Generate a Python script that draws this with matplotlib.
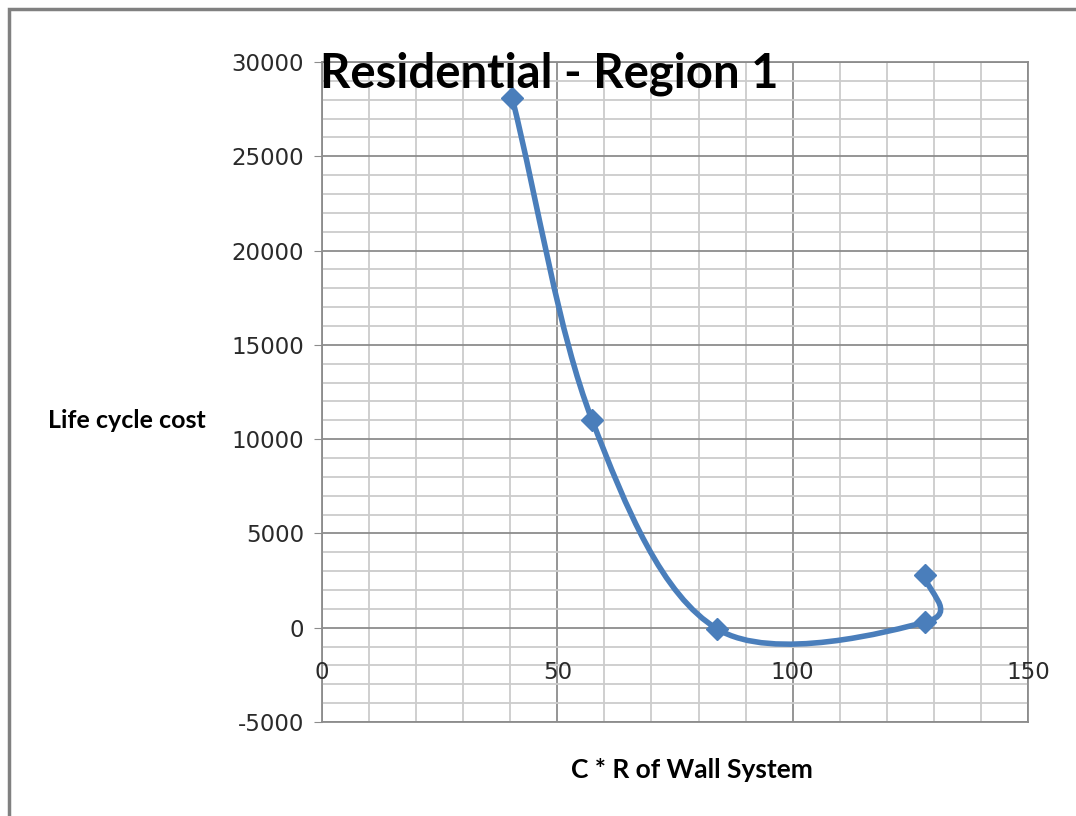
import numpy as np
import matplotlib.pyplot as plt
from matplotlib.path import Path
from matplotlib.patches import PathPatch, Rectangle
from matplotlib.ticker import MultipleLocator

# C*R of wall system vs life cycle cost
cr = [40.4, 57.4, 84.0, 128.2, 128.1]
lcc = [28100, 11000, -70, 300, 2800]

x_ticks = [0, 50, 100, 150]
y_ticks = [-5000, 0, 5000, 10000, 15000, 20000, 25000, 30000]

blue = '#4a7ebb'


def smooth_path(xs, ys):
    # excel-like smoothed line: cubic bezier with catmull-rom tangents
    p = np.column_stack([xs, ys]).astype(float)
    n = len(p)
    verts = [p[0]]
    codes = [Path.MOVETO]
    for i in range(n - 1):
        t0 = (p[i + 1] - p[i - 1]) / 2 if i > 0 else (p[i + 1] - p[i])
        t1 = (p[i + 2] - p[i]) / 2 if i + 2 < n else (p[i + 1] - p[i])
        verts += [p[i] + t0 / 3, p[i + 1] - t1 / 3, p[i + 1]]
        codes += [Path.CURVE4] * 3
    return Path(verts, codes)


fig = plt.figure(figsize=(10.76, 8.16), dpi=100)
ax = fig.add_axes([322 / 1076, 1 - 722 / 816, (1028 - 322) / 1076, 660 / 816])

ax.set_xlim(0, 150)
ax.set_ylim(-5000, 30000)
ax.xaxis.set_major_locator(MultipleLocator(50))
ax.xaxis.set_minor_locator(MultipleLocator(10))
ax.yaxis.set_major_locator(MultipleLocator(5000))
ax.yaxis.set_minor_locator(MultipleLocator(1000))
ax.grid(which='major', color='#8c8c8c', lw=1.3)
ax.grid(which='minor', color='#cccccc', lw=1.3)
ax.set_axisbelow(True)
for s in ax.spines.values():
    s.set_color('#8c8c8c')
    s.set_linewidth(1.3)

ax.set_yticks(y_ticks)
ax.set_yticklabels([str(v) for v in y_ticks])
ax.tick_params(axis='y', which='major', length=6, color='#8c8c8c', labelsize=16.5, pad=7, labelcolor='#2a2a2a')
ax.tick_params(axis='y', which='minor', length=0)
ax.set_xticks(x_ticks)
ax.set_xticklabels([])
ax.tick_params(axis='x', which='both', length=0)
for v in x_ticks:
    ax.text(v, -2400, str(v), ha='center', va='center', fontsize=16.5, color='#2a2a2a')

ax.add_patch(PathPatch(smooth_path(cr, lcc), fill=False, ec=blue, lw=4, capstyle='round', zorder=3))
ax.plot(cr, lcc, ls='none', marker='D', ms=11, color=blue, zorder=4)

fig.text(320 / 1076, 1 - 87 / 816, 'Residential - Region 1', fontsize=34, fontweight='bold',
         family='Lato', ha='left', va='baseline')
fig.text(48 / 1076, 1 - 428 / 816, 'Life cycle cost', fontsize=18, fontweight='bold',
         family='Lato', ha='left', va='baseline')
fig.text(692 / 1076, 1 - 778 / 816, 'C * R of Wall System', fontsize=19, fontweight='bold',
         family='Lato', ha='center', va='baseline')

# outer chart border (only left/top visible in the crop)
fig.patches.append(Rectangle((9 / 1076, -0.1), 1.2, 1 - 9 / 816 + 0.1, transform=fig.transFigure,
                             fill=False, ec='#808080', lw=2.5))

fig.savefig('out.png', dpi=100)
